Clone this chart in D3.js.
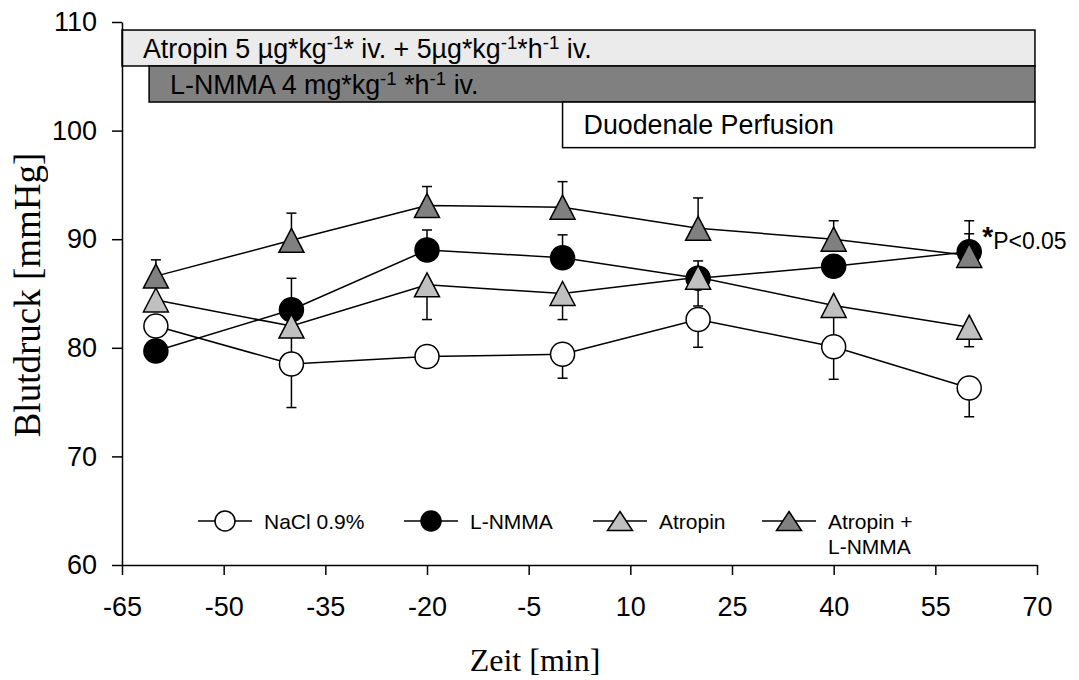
<!DOCTYPE html>
<html><head><meta charset="utf-8">
<script src="https://cdn.jsdelivr.net/npm/d3@7"></script>
<style>body{margin:0;background:#fff}</style>
</head><body>
<svg id="c" width="1079" height="680"></svg>
<script>
// ---------------- DATA ----------------
const times = [-60, -40, -20, 0, 20, 40, 60];
const xTicks = [-65, -50, -35, -20, -5, 10, 25, 40, 55, 70];
const yTicks = [60, 70, 80, 90, 100, 110];

const seriesNames = ["NaCl 0.9%", "L-NMMA", "Atropin", "Atropin +|L-NMMA"];
const naclMean  = [82.0, 78.5, 79.2, 79.4, 82.6, 80.1, 76.3];
const naclErr   = [0.9, 4.0, 0.8, 2.2, 2.55, 3.0, 2.65];
const lnmmaMean = [79.7, 83.5, 89.0, 88.3, 86.4, 87.5, 88.85];
const lnmmaErr  = [1.0, 2.9, 1.85, 2.1, 1.6, 1.0, 2.85];
const atrMean   = [84.4, 82.0, 85.8, 85.0, 86.5, 83.9, 81.9];
const atrErr    = [1.0, 2.6, 3.2, 2.4, 2.65, 3.0, 1.8];
const alnMean   = [86.6, 89.9, 93.1, 92.95, 91.0, 90.0, 88.5];
const alnErr    = [1.5, 2.5, 1.75, 2.35, 2.8, 1.7, 2.0];

const barLabels = ["Atropin 5 µg*kg^-1^* iv. + 5µg*kg^-1^*h^-1^ iv.", "L-NMMA 4 mg*kg^-1^ *h^-1^ iv.", "Duodenale Perfusion"];
const barStart = [-65, -61, 0];
const barEnd   = [69.7, 69.7, 69.7];

const sigLabel = "P<0.05";
const xTitle = "Zeit [min]";
const yTitle = "Blutdruck [mmHg]";

// ---------------- LAYOUT / STYLE ----------------
const svg = d3.select("#c");
const x = d3.scaleLinear().domain([-65, 70]).range([122, 1037]);
const y = d3.scaleLinear().domain([60, 110]).range([565, 22]);
const sans = "'Liberation Sans', Arial, sans-serif";
const serif = "'Liberation Serif', 'Times New Roman', serif";

const barRows = [[109.26, 105.95], [105.95, 102.63], [102.63, 98.43]];
const barFills = ["#ebebeb", "#808080", "#ffffff"];
const barFont = 26.8;

// bars
barLabels.forEach((lab, i) => {
  const x0 = x(barStart[i]), x1 = x(barEnd[i]);
  const yt = y(barRows[i][0]), yb = y(barRows[i][1]);
  svg.append("rect").attr("x", x0).attr("y", yt).attr("width", x1 - x0).attr("height", yb - yt)
    .attr("fill", barFills[i]).attr("stroke", "#000").attr("stroke-width", 1.5);
  const t = svg.append("text").attr("x", x0 + 21).attr("y", (yt + yb) / 2 + 0.358 * barFont)
    .attr("font-family", sans).attr("font-size", barFont).attr("fill", "#000");
  const parts = lab.split("^");
  parts.forEach((p, k) => {
    if (p === "") return;
    const ts = t.append("tspan").text(p);
    if (k % 2 === 1) { ts.attr("font-size", barFont * 0.7).attr("dy", -9); }
    else if (k > 0) { ts.attr("dy", 9); }
  });
});

// axes
const fmt = d => String(d);
const yAxis = svg.append("g").attr("transform", `translate(${x(-65)},0)`)
  .call(d3.axisLeft(y).tickValues(yTicks).tickFormat(fmt).tickSize(10).tickSizeOuter(0).tickPadding(15));
const xAxis = svg.append("g").attr("transform", `translate(0,${y(60)})`)
  .call(d3.axisBottom(x).tickValues(xTicks).tickFormat(fmt).tickSize(10).tickSizeOuter(0).tickPadding(22));
[yAxis, xAxis].forEach(a => {
  a.select(".domain").attr("stroke-width", 1.5);
  a.selectAll(".tick line").attr("stroke-width", 1.5);
  a.selectAll(".tick text").attr("font-family", sans).attr("font-size", 27).attr("fill", "#000");
});

// series
const series = [
  {name: seriesNames[1], mean: lnmmaMean, err: lnmmaErr, dir: 1, sym: "circle", fill: "#000"},
  {name: seriesNames[2], mean: atrMean, err: atrErr, dir: -1, sym: "tri", fill: "#c0c0c0"},
  {name: seriesNames[3], mean: alnMean, err: alnErr, dir: 1, sym: "tri", fill: "#808080"},
  {name: seriesNames[0], mean: naclMean, err: naclErr, dir: -1, sym: "circle", fill: "#fff"}
];
const triPath = (cx, cy, w, h) => `M${cx},${cy - h / 2}L${cx + w / 2},${cy + h / 2}L${cx - w / 2},${cy + h / 2}Z`;
function drawSym(g, s, cx, cy, legend) {
  if (s.sym === "circle") {
    g.append("circle").attr("cx", cx).attr("cy", cy).attr("r", legend ? 10 : 12)
      .attr("fill", s.fill).attr("stroke", "#000").attr("stroke-width", 1.5);
  } else {
    g.append("path").attr("d", legend ? triPath(cx, cy, 25, 19) : triPath(cx, cy, 25, 24))
      .attr("fill", s.fill).attr("stroke", "#000").attr("stroke-width", 1.5);
  }
}
const line = d3.line().x(d => x(d[0])).y(d => y(d[1]));
series.forEach(s => {
  const g = svg.append("g");
  times.forEach((t, i) => {
    const ye = y(s.mean[i] + s.dir * s.err[i]);
    g.append("line").attr("x1", x(t)).attr("x2", x(t)).attr("y1", y(s.mean[i])).attr("y2", ye)
      .attr("stroke", "#000").attr("stroke-width", 1.5);
    g.append("line").attr("x1", x(t) - 5).attr("x2", x(t) + 5).attr("y1", ye).attr("y2", ye)
      .attr("stroke", "#000").attr("stroke-width", 1.5);
  });
  g.append("path").attr("d", line(times.map((t, i) => [t, s.mean[i]])))
    .attr("fill", "none").attr("stroke", "#000").attr("stroke-width", 1.5);
  times.forEach((t, i) => drawSym(g, s, x(t), y(s.mean[i]), false));
});

// legend
const legX = [225, 431, 620, 789];
const legY = 521;
const legOrder = [series[3], series[0], series[1], series[2]];
legOrder.forEach((s, i) => {
  const g = svg.append("g");
  g.append("line").attr("x1", legX[i] - 27).attr("x2", legX[i] + 27).attr("y1", legY).attr("y2", legY)
    .attr("stroke", "#000").attr("stroke-width", 1.5);
  drawSym(g, s, legX[i], legY, true);
  const lines = s.name.split("|");
  lines.forEach((l, k) => {
    g.append("text").attr("x", legX[i] + 39).attr("y", legY + 8 + k * 25)
      .attr("font-family", sans).attr("font-size", 21).attr("fill", "#000").text(l);
  });
});

// significance
const sg = svg.append("text").attr("x", x(60) + 13).attr("y", y(lnmmaMean[6]) - 3)
  .attr("font-family", sans).attr("font-size", 23).attr("fill", "#000");
sg.append("tspan").text("*").attr("font-size", 28).attr("font-weight", "bold").attr("dy", -3);
sg.append("tspan").text(sigLabel).attr("dy", 3);

// titles
svg.append("text").attr("x", 535).attr("y", 671).attr("text-anchor", "middle")
  .attr("font-family", serif).attr("font-size", 32).attr("fill", "#000000").text(xTitle);
svg.append("text").attr("transform", "translate(40,295) rotate(-90)").attr("text-anchor", "middle")
  .attr("font-family", serif).attr("font-size", 37).attr("opacity", 0.999)
  .attr("fill", "#000000").text(yTitle);
</script>
</body></html>
